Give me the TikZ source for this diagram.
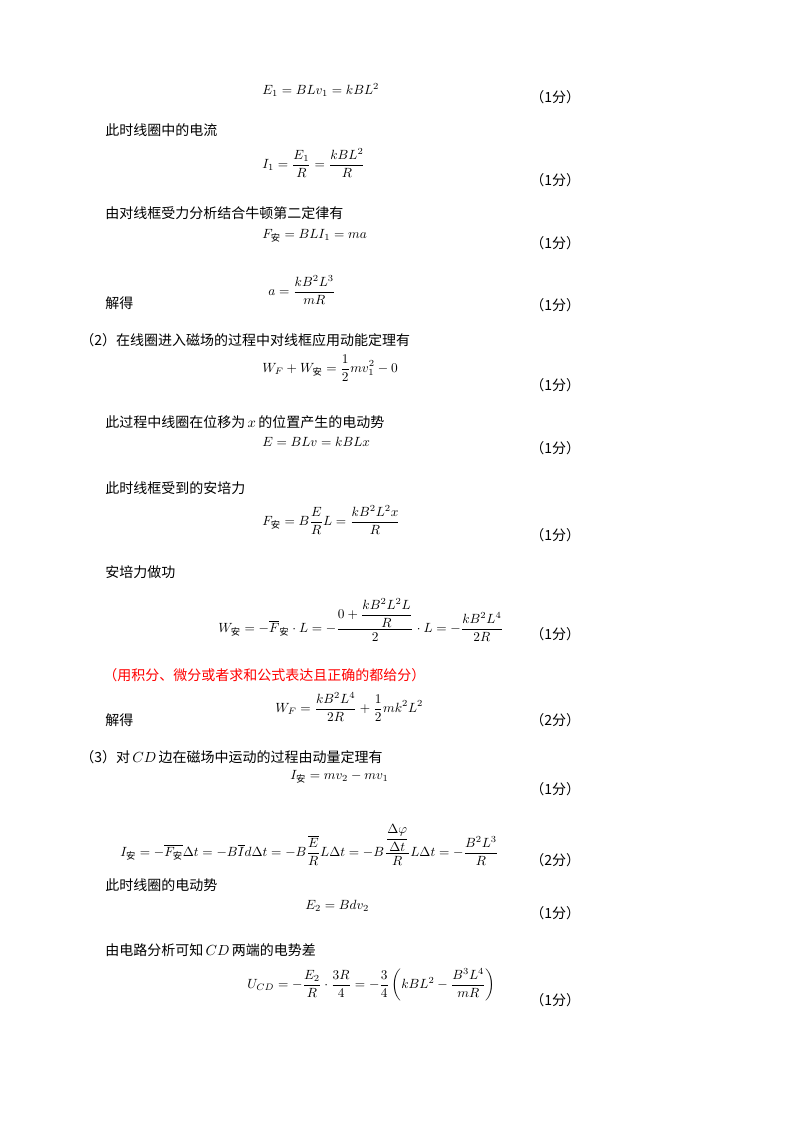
\documentclass[tikz,border=0pt]{standalone}
\usepackage{amsmath}
\usepackage{fontspec}
\setmainfont{Liberation Serif}
\newfontfamily\cjk{Noto Sans CJK SC}
\newcommand{\an}{\text{\cjk 安}}
\begin{document}
\begin{tikzpicture}[x=0.75pt,y=-0.75pt,
  txt/.style={anchor=west,inner sep=0pt,font=\cjk\fontsize{10.5}{12}\selectfont},
  eq/.style={anchor=west,inner sep=0pt,font=\fontsize{10}{12}\selectfont},
  sc/.style={anchor=west,inner sep=0pt,font=\cjk\fontsize{10.5}{12}\selectfont}]
\useasboundingbox (0,0) rectangle (800,1132);
\node[eq] (e1) at (262,90) {$E_1=BLv_1=kBL^2$};
\node[sc] (s1) at (530,97) {（1分）};
\node[txt] (t1) at (105,130) {此时线圈中的电流};
\node[eq] (e2) at (262,163) {$\displaystyle I_1=\frac{E_1}{R}=\frac{kBL^2}{R}$};
\node[sc] (s2) at (530,180) {（1分）};
\node[txt] (t2) at (105,213) {由对线框受力分析结合牛顿第二定律有};
\node[eq] (e3) at (262,236) {$F_{\an}=BLI_1=ma$};
\node[sc] (s3) at (530,243) {（1分）};
\node[eq] (e4) at (268,290) {$\displaystyle a=\frac{kB^2L^3}{mR}$};
\node[txt] (t3) at (105,303) {解得};
\node[sc] (s4) at (530,305) {（1分）};
\node[txt] (t4) at (80,340) {（2）在线圈进入磁场的过程中对线框应用动能定理有};
\node[eq] (e5) at (262,368) {$\displaystyle W_F+W_{\an}=\frac12 mv_1^2-0$};
\node[sc] (s5) at (530,385) {（1分）};
\node[txt] (t5) at (105,422) {此过程中线圈在位移为\,$x$\,的位置产生的电动势};
\node[eq] (e6) at (262,442) {$E=BLv=kBLx$};
\node[sc] (s6) at (530,448) {（1分）};
\node[txt] (t6) at (105,488) {此时线框受到的安培力};
\node[eq] (e7) at (262,520) {$\displaystyle F_{\an}=B\frac{E}{R}L=\frac{kB^2L^2x}{R}$};
\node[sc] (s7) at (530,535) {（1分）};
\node[txt] (t7) at (105,572) {安培力做功};
\node[eq] (e8) at (218,620) {$\displaystyle W_{\an}=-\overline{F}_{\an}\cdot L=-\frac{0+\dfrac{kB^2L^2L}{R}}{2}\cdot L=-\frac{kB^2L^4}{2R}$};
\node[sc] (s8) at (530,634) {（1分）};
\node[txt,text=red] (t8) at (103,675) {（用积分、微分或者求和公式表达且正确的都给分）};
\node[eq] (e9) at (275,707) {$\displaystyle W_F=\frac{kB^2L^4}{2R}+\frac12 mk^2L^2$};
\node[txt] (t9) at (105,720) {解得};
\node[sc] (s9) at (530,720) {（2分）};
\node[txt] (t10) at (80,757) {（3）对\,$CD$\,边在磁场中运动的过程由动量定理有};
\node[eq] (e10) at (290,777) {$I_{\an}=mv_2-mv_1$};
\node[sc] (s10) at (530,789) {（1分）};
\node[eq] (e11) at (120,845) {$\displaystyle I_{\an}=-\overline{F_{\an}}\Delta t=-B\overline{I}d\Delta t=-B\frac{\overline{E}}{R}L\Delta t=-B\frac{\dfrac{\Delta\varphi}{\Delta t}}{R}L\Delta t=-\frac{B^2L^3}{R}$};
\node[sc] (s11) at (530,860) {（2分）};
\node[txt] (t11) at (105,885) {此时线圈的电动势};
\node[eq] (e12) at (305,906) {$E_2=Bdv_2$};
\node[sc] (s12) at (530,913) {（1分）};
\node[txt] (t12) at (105,950) {由电路分析可知\,$CD$\,两端的电势差};
\node[eq] (e13) at (247,985) {$\displaystyle U_{CD}=-\frac{E_2}{R}\cdot\frac{3R}{4}=-\frac34\left(kBL^2-\frac{B^3L^4}{mR}\right)$};
\node[sc] (s13) at (530,1000) {（1分）};
\end{tikzpicture}
\end{document}
